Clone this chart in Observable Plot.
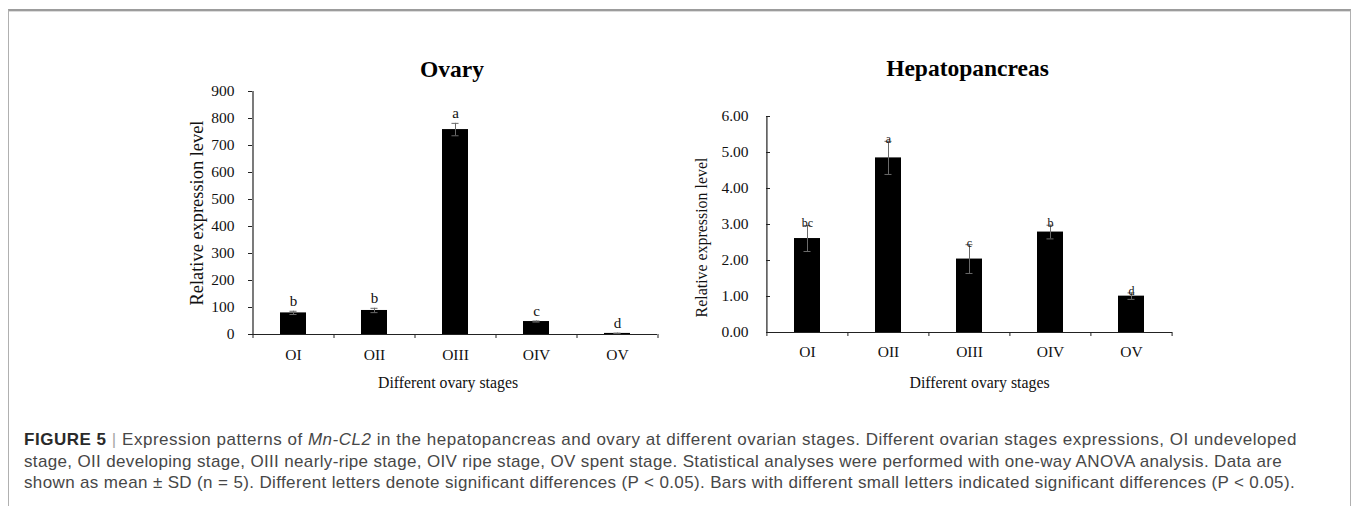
<!DOCTYPE html>
<html>
<head>
<meta charset="utf-8">
<script src="https://cdn.jsdelivr.net/npm/d3@7"></script>
<script src="https://cdn.jsdelivr.net/npm/@observablehq/plot@0.6"></script>
<style>
  html, body { margin: 0; padding: 0; background: #fff; width: 1356px; height: 506px; overflow: hidden; }
  #frame { position: absolute; left: 8px; top: 9px; width: 1341px; height: 520px;
           border-top: 2px solid #9c9c9c; border-left: 1px solid #b0b0b0; border-right: 1px solid #b0b0b0;
           box-shadow: inset 0 1px 0 #dcdcdc; }
  #ovary { position: absolute; left: 0; top: 0; }
  #hep { position: absolute; left: 680px; top: 0; }
  #caption { position: absolute; left: 24px; top: 429px; font-family: "Liberation Sans", Arial, sans-serif;
             font-size: 17px; color: #474747; line-height: 21.5px; white-space: nowrap; }
  #caption b { color: #2a2a2a; }
  #caption .sep { color: #a8a8a8; }
  #caption div { display: block; }
</style>
</head>
<body>
<div id="frame"></div>
<div id="ovary"></div>
<div id="hep"></div>
<div id="caption">
  <div><span class="ln"><b>FIGURE 5</b> <span class="sep">|</span> Expression patterns of <i>Mn-CL2</i> in the hepatopancreas and ovary at different ovarian stages. Different ovarian stages expressions, OI undeveloped</span></div>
  <div><span class="ln">stage, OII developing stage, OIII nearly-ripe stage, OIV ripe stage, OV spent stage. Statistical analyses were performed with one-way ANOVA analysis. Data are</span></div>
  <div><span class="ln">shown as mean ± SD (n = 5). Different letters denote significant differences (P &lt; 0.05). Bars with different small letters indicated significant differences (P &lt; 0.05).</span></div>
</div>
<script>
const stages = ["OI", "OII", "OIII", "OIV", "OV"];

const ovaryMean = [80, 89, 759, 48, 4];
const ovarySD = [6, 8, 23, 2, 1];
const ovaryLetters = ["b", "b", "a", "c", "d"];
const ovaryTicks = [0, 100, 200, 300, 400, 500, 600, 700, 800, 900];

const hepMean = [2.61, 4.85, 2.04, 2.79, 1.01];
const hepSD = [0.36, 0.46, 0.40, 0.19, 0.09];
const hepLetters = ["bc", "a", "c", "b", "d"];
const hepTicks = [0, 1, 2, 3, 4, 5, 6];

const titles = ["Ovary", "Hepatopancreas"];
const yLabel = "Relative expression level";
const xLabel = "Different ovary stages";

const serif = "'Liberation Serif', 'Times New Roman', serif";

function build(cfg) {
  const data = stages.map((s, i) => ({stage: s, v: cfg.mean[i], e: cfg.sd[i], letter: cfg.letters[i]}));
  const plotW = cfg.width - cfg.marginLeft - cfg.marginRight;
  const step = plotW / stages.length;
  const bw = step * 0.32;
  const capInset = (bw - 7) / 2;
  return Plot.plot({
    width: cfg.width, height: cfg.height,
    marginLeft: cfg.marginLeft, marginRight: cfg.marginRight,
    marginTop: cfg.marginTop, marginBottom: cfg.marginBottom,
    style: {fontFamily: serif, color: "#000", background: "transparent", overflow: "visible"},
    x: {domain: stages, paddingInner: 0.68, paddingOuter: 0.34, axis: null},
    y: {domain: cfg.domain, axis: null},
    marks: [
      Plot.barY(data, {x: "stage", y: "v", fill: "#000"}),
      Plot.ruleX(data, {x: "stage", y1: d => d.v - d.e, y2: d => d.v + d.e, stroke: "#6a6a6a", strokeWidth: 1}),
      Plot.tickY(data, {x: "stage", y: d => d.v + d.e, stroke: "#6a6a6a", insetLeft: capInset, insetRight: capInset}),
      Plot.tickY(data, {x: "stage", y: d => d.v - d.e, stroke: "#6a6a6a", insetLeft: capInset, insetRight: capInset}),
      Plot.text(data, {x: "stage", y: d => d.v + d.e, text: "letter", fontSize: cfg.letterSize,
        lineAnchor: cfg.letterAnchor, dy: cfg.letterDy, fill: "#111"}),
      // x axis line and y axis line
      Plot.ruleY([cfg.domain[0]], {stroke: "#222", strokeWidth: 1.2}),
      Plot.ruleX([stages[0]], {y1: cfg.domain[0], y2: cfg.domain[1], dx: -step / 2, stroke: "#222", strokeWidth: 1.2}),
      // y axis ticks and labels
      Plot.axisY({ticks: cfg.ticks, tickFormat: cfg.fmt, tickSize: 0, tickPadding: cfg.labelPad,
        fontSize: 15.5, fill: "#111", label: null}),
      Plot.axisY({ticks: cfg.ticks, tickSize: 4, text: null, dx: cfg.tickDx, stroke: "#222", label: null}),
      // x axis: category labels + band-edge ticks
      Plot.axisX({tickSize: 0, tickPadding: cfg.xPad, fontSize: 15.5, fill: "#111", label: null}),
      Plot.axisX({tickSize: 4, text: null, dx: -step / 2, stroke: "#222", label: null}),
      Plot.axisX({ticks: [stages[stages.length - 1]], tickSize: 4, text: null, dx: step / 2, stroke: "#222", label: null}),
      // title
      Plot.text([cfg.title], {frameAnchor: "top", dy: cfg.titleDy, dx: cfg.titleDx, fontSize: 23.5,
        fontWeight: "bold", lineAnchor: "middle", textAnchor: "middle", fill: "#000"}),
      // y label
      Plot.text([yLabel], {frameAnchor: "left", rotate: -90, dx: cfg.yLabDx, dy: cfg.yLabDy,
        fontSize: cfg.yLabSize, lineAnchor: "middle", textAnchor: "middle", fill: "#111"}),
      // x label
      Plot.text([xLabel], {frameAnchor: "bottom", dy: cfg.xLabDy, dx: cfg.xLabDx, fontSize: 15.8,
        lineAnchor: "middle", textAnchor: "middle", fill: "#111"})
    ]
  });
}

document.getElementById("ovary").appendChild(build({
  mean: ovaryMean, sd: ovarySD, letters: ovaryLetters, ticks: ovaryTicks, fmt: d3.format("d"),
  domain: [0, 900], width: 680, height: 400, marginLeft: 252, marginRight: 23, marginTop: 91, marginBottom: 66,
  labelPad: 18, tickDx: 0, xPad: 14, letterSize: 15, letterAnchor: "bottom", letterDy: -5,
  title: titles[0], titleDy: -22, titleDx: -3, yLabDx: -55, yLabDy: 0, yLabSize: 18.4, xLabDy: 48, xLabDx: -7
}));

document.getElementById("hep").appendChild(build({
  mean: hepMean, sd: hepSD, letters: hepLetters, ticks: hepTicks, fmt: d3.format(".2f"),
  domain: [0, 6], width: 676, height: 400, marginLeft: 86, marginRight: 184, marginTop: 116, marginBottom: 68,
  labelPad: 18, tickDx: 4, xPad: 13, letterSize: 12, letterAnchor: "middle", letterDy: -2,
  title: titles[1], titleDy: -48, titleDx: -2, yLabDx: -65, yLabDy: 13, yLabSize: 15.9, xLabDy: 50, xLabDx: 10
}));

// fit each caption line to the reference line length via letter spacing
const targets = [1273, 1258, 1271];
document.querySelectorAll("#caption .ln").forEach((el, i) => {
  const w = el.getBoundingClientRect().width;
  const n = el.textContent.length;
  el.style.letterSpacing = ((targets[i] - w) / n) + "px";
});
</script>
</body>
</html>
